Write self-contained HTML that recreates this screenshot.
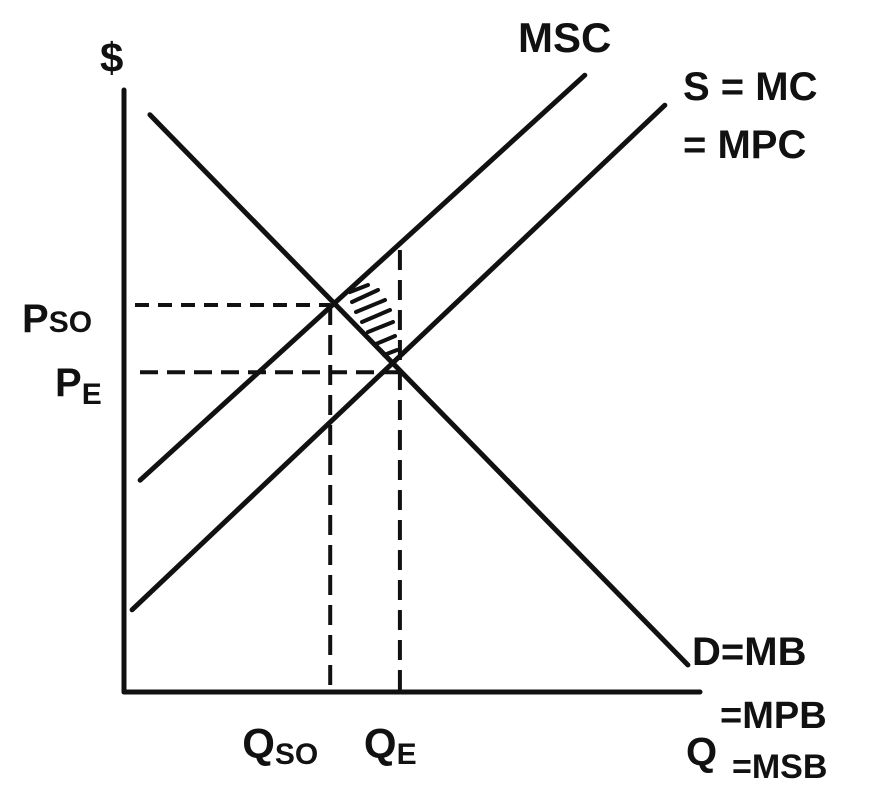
<!DOCTYPE html>
<html><head><meta charset="utf-8"><style>
html,body{margin:0;padding:0;background:#fff;}
svg{display:block;}
text{font-family:"Liberation Sans",sans-serif;fill:#111;font-weight:bold;}
</style></head><body>
<svg id="chart" width="872" height="789" viewBox="0 0 872 789">
<g id="g"></g>
</svg>
<script>
// data (quantity 0..10, price 0..10)
const demandLine = [[0.45, 9.62], [9.79, 0.45]];
const mscLine = [[0.28, 3.53], [8.0, 10.28]];
const supplyLine = [[0.14, 1.37], [9.39, 9.78]];
const priceLevels = [6.45, 5.33];
const quantityLevels = [3.58, 4.79];
const priceLabels = ["P", "P"];
const priceSubs = ["SO", "E"];
const quantityLabels = ["Q", "Q"];
const quantitySubs = ["SO", "E"];

const X = q => 124 + q * 57.6;
const Y = p => 692 - p * 60;
const NS = "http://www.w3.org/2000/svg";
const g = document.getElementById('g');
function mk(tag, attrs, name, txt) {
  const e = document.createElementNS(NS, tag);
  for (const k in attrs) e.setAttribute(k, attrs[k]);
  
  
  if (txt !== undefined) e.textContent = txt;
  g.appendChild(e);
  return e;
}
mk('line', {x1:124, y1:90, x2:124, y2:692, stroke:'#111','stroke-width':5,'stroke-linecap':'round'}, 'y-axis');
mk('line', {x1:124, y1:692, x2:700, y2:692, stroke:'#111','stroke-width':5,'stroke-linecap':'round'}, 'x-axis');
mk('line', {x1:135, y1:Y(priceLevels[0]), x2:X(quantityLevels[0]), y2:Y(priceLevels[0]), stroke:'#111','stroke-width':4,'stroke-dasharray':'14 9'}, 'pso-guide');
mk('line', {x1:140, y1:Y(priceLevels[1]), x2:X(quantityLevels[1]), y2:Y(priceLevels[1]), stroke:'#111','stroke-width':4,'stroke-dasharray':'18 9'}, 'pe-guide');
mk('line', {x1:X(quantityLevels[0]), y1:Y(priceLevels[0]), x2:X(quantityLevels[0]), y2:690, stroke:'#111','stroke-width':4,'stroke-dasharray':'20 10'}, 'qso-guide');
mk('line', {x1:X(quantityLevels[1]), y1:250, x2:X(quantityLevels[1]), y2:690, stroke:'#111','stroke-width':4,'stroke-dasharray':'20 10'}, 'qe-guide');
const lines = [[demandLine,'demand-line'],[mscLine,'msc-line'],[supplyLine,'supply-line']];
for (const [l, n] of lines) {
  mk('line', {x1:X(l[0][0]), y1:Y(l[0][1]), x2:X(l[1][0]), y2:Y(l[1][1]), stroke:'#111','stroke-width':5,'stroke-linecap':'round'}, n);
}
const hatch = [[350,292,368,285],[352,302,378,290],[356,312,385,300],[362,322,390,310],[368,332,393,322],[376,344,395,336],[384,355,397,350]];
for (const h of hatch) mk('line', {x1:h[0], y1:h[1], x2:h[2], y2:h[3], stroke:'#111','stroke-width':4,'stroke-linecap':'round'}, 'dwl-hatch');
mk('text', {x:100, y:72, 'font-size':42}, 'y-axis-title', '$');
mk('text', {x:518, y:52, 'font-size':42}, 'msc-label', 'MSC');
mk('text', {x:683, y:100, 'font-size':40}, 'supply-label', 'S = MC');
mk('text', {x:683, y:158, 'font-size':40}, 'mpc-label', '= MPC');
mk('text', {x:692, y:665, 'font-size':40}, 'demand-label', 'D=MB');
mk('text', {x:720, y:728, 'font-size':38}, 'mpb-label', '=MPB');
mk('text', {x:686, y:765, 'font-size':40}, 'x-axis-title', 'Q');
mk('text', {x:732, y:778, 'font-size':34}, 'msb-label', '=MSB');
const pPos = [[22,332],[55,396]];
for (let i = 0; i < priceLevels.length; i++) {
  const t = mk('text', {x:pPos[i][0], y:pPos[i][1], 'font-size':40}, 'price-label-' + priceSubs[i].toLowerCase(), priceLabels[i]);
  const s = document.createElementNS(NS, 'tspan');
  s.setAttribute('font-size', 30);
  s.setAttribute('dy', i === 0 ? 0 : 8);
  s.textContent = priceSubs[i];
  t.appendChild(s);
}
for (let i = 0; i < quantityLevels.length; i++) {
  const t = mk('text', {x:X(quantityLevels[i]) - (i === 0 ? 88 : 36), y:758, 'font-size':42}, 'quantity-label-' + quantitySubs[i].toLowerCase(), quantityLabels[i]);
  const s = document.createElementNS(NS, 'tspan');
  s.setAttribute('font-size', 30);
  s.setAttribute('dy', 6);
  s.textContent = quantitySubs[i];
  t.appendChild(s);
}
</script>
</body></html>
